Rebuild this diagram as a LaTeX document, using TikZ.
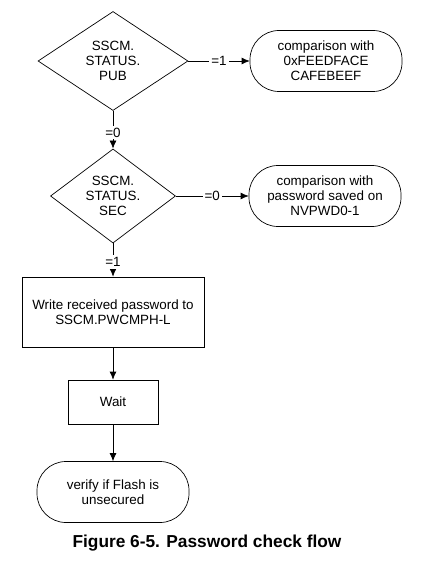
\documentclass[tikz,border=0pt]{standalone}
\usepackage{fontspec}
\setmainfont{Liberation Sans}
\usetikzlibrary{shapes.geometric,arrows,arrows.meta,positioning}
\tikzset
{
    decision/.style = {diamond, draw=black, align=center, inner sep=0pt, font=\fontsize{13.4}{15}\selectfont},
    terminal/.style = {rectangle, rounded corners=29pt, draw=black, align=center, minimum width=152pt, minimum height=61pt, font=\fontsize{13.4}{15}\selectfont},
    process/.style  = {rectangle, draw=black, align=center, font=\fontsize{13.4}{15}\selectfont},
    cond/.style     = {fill=white, inner sep=2pt, font=\fontsize{13.4}{14}\selectfont}
}

\begin{document}
\begin{tikzpicture}[x=1pt,y=-1pt,->,>={Latex[length=8pt,width=7pt]},line width=0.7pt]
\useasboundingbox (0,0) rectangle (424,561);
\node [decision, minimum width=150pt, minimum height=99pt] at (113,61) (pub) {SSCM.\\STATUS.\\PUB};
\node [terminal] at (326,61) (magic) {comparison with\\0xFEEDFACE\\CAFEBEEF};
\node [decision, minimum width=125pt, minimum height=84pt] at (113,196) (sec) {SSCM.\\STATUS.\\SEC};
\node [terminal] at (325,196) (nvpwd) {comparison with\\password saved on\\NVPWD0-1};
\node [process, minimum width=182pt, minimum height=70pt] at (113,312) (write) {Write received password to\\SSCM.PWCMPH-L};
\node [process, minimum width=90pt, minimum height=44pt] at (113,402) (wait) {Wait};
\node [terminal] at (113,492) (verify) {verify if Flash is\\unsecured};
\node [font=\bfseries\fontsize{17.3}{19}\selectfont] at (207,543) (caption) {Figure 6-5. Password check flow};
\draw (pub) -- node[cond] {=1} (magic);
\draw (pub) -- node[cond, yshift=-3pt] {=0} (sec);
\draw (sec) -- node[cond] {=0} (nvpwd);
\draw (sec) -- node[cond, yshift=-2pt] {=1} (write);
\draw (write) -- (wait);
\draw (wait) -- (verify);
\end{tikzpicture}
\end{document}
